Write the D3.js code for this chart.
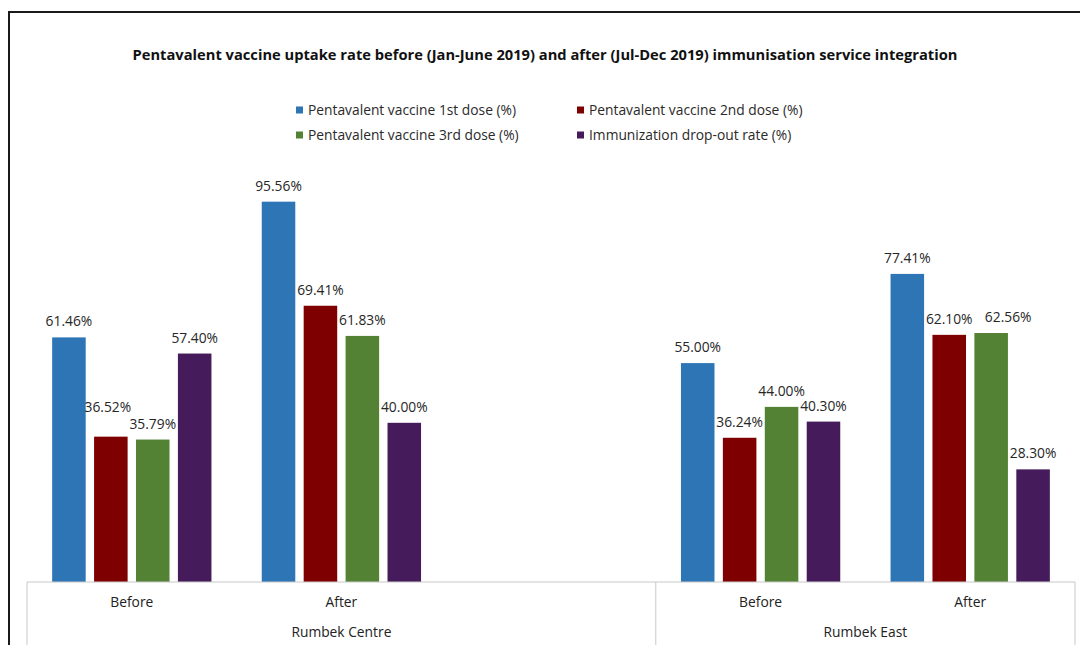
<!DOCTYPE html>
<html>
<head>
<meta charset="utf-8">
<script src="https://cdn.jsdelivr.net/npm/d3@7"></script>
<style>
  body { margin: 0; background: #fff; }
  svg text { font-family: "Open Sans", "DejaVu Sans", sans-serif; }
</style>
</head>
<body>
<svg id="chart" width="1080" height="645"></svg>
<script>
// chart data
var title = "Pentavalent vaccine uptake rate before (Jan-June 2019) and after (Jul-Dec 2019) immunisation service integration";
var sites = ["Rumbek Centre", "Rumbek Centre", "Rumbek Centre", "Rumbek East", "Rumbek East"];
var periods = ["Before", "After", "", "Before", "After"];
var seriesNames = [
  "Pentavalent vaccine 1st dose (%)",
  "Pentavalent vaccine 2nd dose (%)",
  "Pentavalent vaccine 3rd dose (%)",
  "Immunization drop-out rate (%)"
];
var dose1 = [61.46, 95.56, null, 55.00, 77.41];
var dose2 = [36.52, 69.41, null, 36.24, 62.10];
var dose3 = [35.79, 61.83, null, 44.00, 62.56];
var dropout = [57.40, 40.00, null, 40.30, 28.30];

var colors = ["#2e75b6", "#7f0000", "#548235", "#451b5b"];
var values = [dose1, dose2, dose3, dropout];

// manual label nudges (slot-series -> [dx, dy]), like Excel's moved labels
var labelNudge = { "0-1": [-3, -14], "4-2": [17, 0] };

var svg = d3.select("#chart");
var baseY = 582;

// outer frame (cut off right / bottom like the reference)
svg.append("rect")
  .attr("x", 9).attr("y", 12)
  .attr("width", 1100).attr("height", 700)
  .attr("fill", "none")
  .attr("stroke", "#1a1a1a")
  .attr("stroke-width", 2);

svg.append("text")
  .attr("x", 545).attr("y", 60)
  .attr("text-anchor", "middle")
  .attr("font-size", 14.7)
  .attr("font-weight", "bold")
  .attr("fill", "#111")
  .text(title);

// legend 2x2
var legendPos = [[296, 110], [577, 110], [296, 135], [577, 135]];
var lg = svg.append("g").selectAll("g")
  .data(seriesNames)
  .enter().append("g")
  .attr("transform", (d, i) => "translate(" + legendPos[i][0] + "," + legendPos[i][1] + ")");
lg.append("rect")
  .attr("x", 0).attr("y", -3.5)
  .attr("width", 7).attr("height", 7)
  .attr("fill", (d, i) => colors[i]);
lg.append("text")
  .attr("x", 12).attr("y", 5)
  .attr("font-size", 13.8)
  .attr("fill", "#2a2a2a")
  .text(d => d);

// scales
var slots = d3.range(periods.length);
var x0 = d3.scaleBand()
  .domain(slots)
  .range([27, 1075])
  .padding(0);

var x1 = d3.scaleBand()
  .domain(d3.range(seriesNames.length))
  .range([0, x0.bandwidth()])
  .paddingInner(0.2)
  .paddingOuter(0.6);

var y = d3.scaleLinear()
  .domain([0, 100])
  .range([baseY, 184]);

// bars
var groups = svg.append("g").selectAll("g")
  .data(slots)
  .enter().append("g")
  .attr("transform", d => "translate(" + x0(d) + ",0)");

function nudge(d, s, k) {
  var n = labelNudge[d + "-" + s];
  return n ? n[k] : 0;
}

values.forEach(function(vals, s) {
  var sel = groups.filter(d => vals[d] != null);
  sel.append("rect")
    .attr("x", x1(s))
    .attr("y", d => y(vals[d]))
    .attr("width", x1.bandwidth())
    .attr("height", d => baseY - y(vals[d]))
    .attr("fill", colors[s]);
  sel.append("text")
    .attr("x", d => x1(s) + x1.bandwidth() / 2 + nudge(d, s, 0))
    .attr("y", d => y(vals[d]) - 11 + nudge(d, s, 1))
    .attr("text-anchor", "middle")
    .attr("font-size", 13.8)
    .attr("fill", "#262626")
    .text(d => vals[d].toFixed(2) + "%");
});

// category axis
var axis = svg.append("g");
axis.append("line")
  .attr("x1", 27).attr("x2", 1075)
  .attr("y1", baseY).attr("y2", baseY)
  .attr("stroke", "#c8c8c8");

var siteNames = Array.from(new Set(sites));
var edges = [27];
siteNames.forEach(function(s) {
  var idx = slots.filter(i => sites[i] == s);
  edges.push(x0(idx[idx.length - 1]) + x0.bandwidth());
});
edges.forEach(function(ex) {
  axis.append("line")
    .attr("x1", ex).attr("x2", ex)
    .attr("y1", baseY).attr("y2", 645)
    .attr("stroke", "#c8c8c8");
});

axis.selectAll(".period")
  .data(slots.filter(i => periods[i] != ""))
  .enter().append("text")
  .attr("x", d => x0(d) + x0.bandwidth() / 2)
  .attr("y", 607)
  .attr("text-anchor", "middle")
  .attr("font-size", 13.8)
  .attr("fill", "#222")
  .text(d => periods[d]);

siteNames.forEach(function(s, i) {
  axis.append("text")
    .attr("x", (edges[i] + edges[i + 1]) / 2)
    .attr("y", 637)
    .attr("text-anchor", "middle")
    .attr("font-size", 13.8)
    .attr("fill", "#222")
    .text(s);
});
</script>
</body>
</html>
